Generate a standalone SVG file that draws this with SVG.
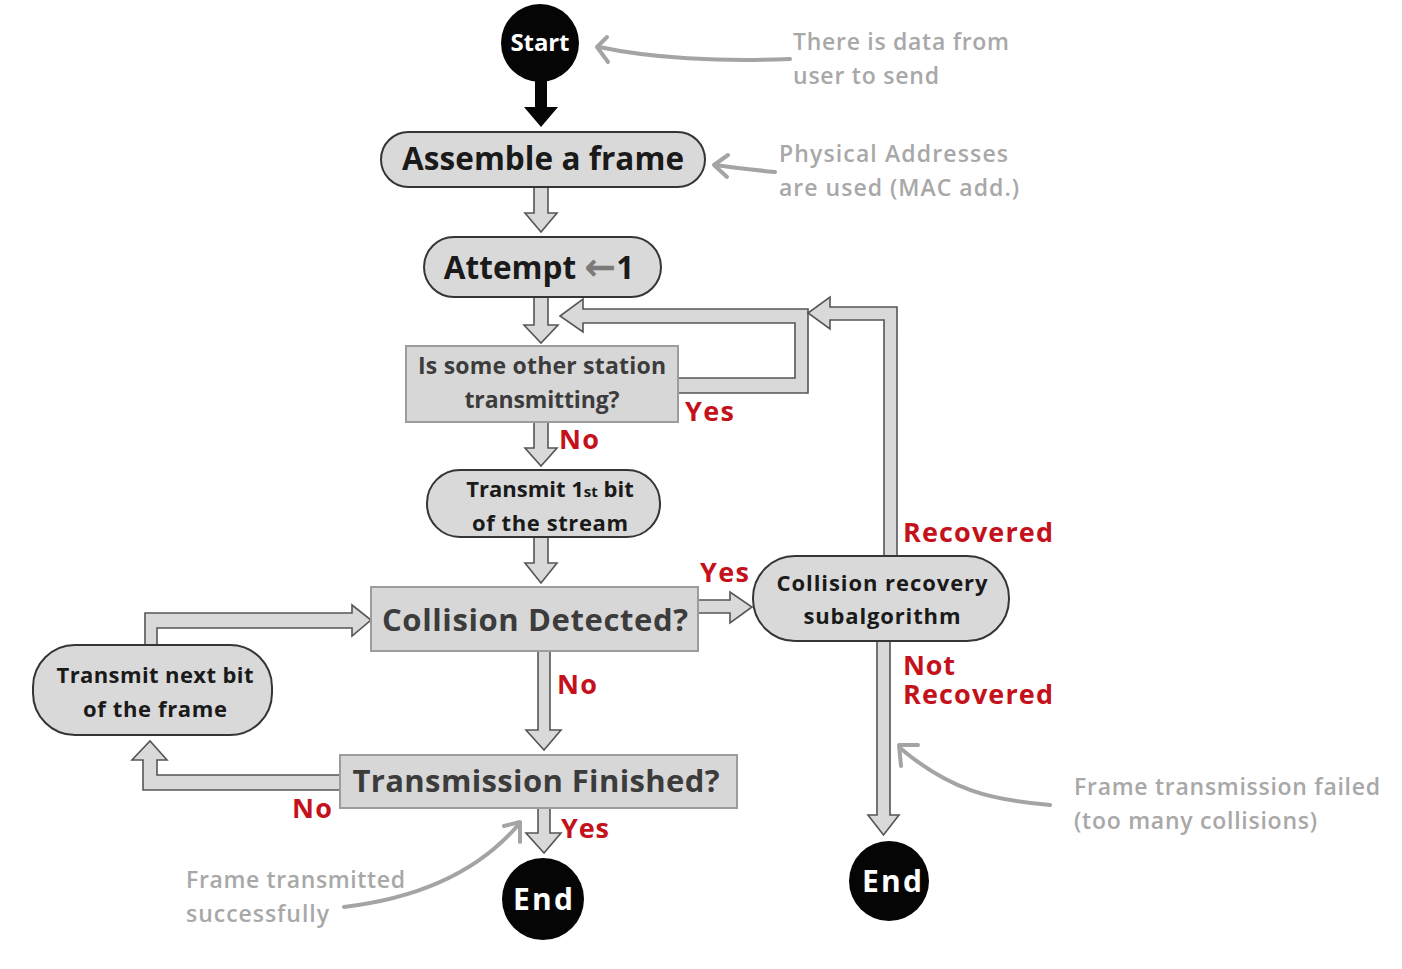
<svg xmlns="http://www.w3.org/2000/svg" width="1402" height="969" viewBox="0 0 1402 969">
<defs>
<style>
.pill{fill:#d9d9d9;stroke:#353535;stroke-width:2}
.box{fill:#d7d7d7;stroke:#9c9c9c;stroke-width:2}
.arr{fill:#d9d9d9;stroke:#555;stroke-width:1.6;stroke-linejoin:miter}
.term{fill:#050505}
.t{font-family:"Open Sans","Liberation Sans",sans-serif;font-weight:bold;fill:#1a1a1a;text-anchor:middle}
.tq{font-family:"Open Sans","Liberation Sans",sans-serif;font-weight:bold;fill:#3c3c3c;text-anchor:middle}
.tw{font-family:"Open Sans","Liberation Sans",sans-serif;font-weight:bold;fill:#fff;text-anchor:middle}
.lab{font-family:"Open Sans","Liberation Sans",sans-serif;font-weight:bold;fill:#c4111b;font-size:27px}
.note{font-family:"Open Sans","Liberation Sans",sans-serif;font-weight:600;fill:#a8a8a8;font-size:23px}
.cur{fill:none;stroke:#a4a4a4;stroke-width:4;stroke-linecap:round;stroke-linejoin:round}
</style>
</defs>
<rect width="1402" height="969" fill="#ffffff"/>

<g id="connectors">
<rect x="535" y="78" width="12" height="30" fill="#050505"/>
<polygon points="524,107 558,107 541,127" fill="#050505"/>
<polygon class="arr" points="534,187 548,187 548,213 557,213 541,232 525,213 534,213"/>
<polygon class="arr" points="534,297 548,297 548,325 558,325 541,343 524,325 534,325"/>
<polygon class="arr" points="677,378 795,378 795,323 583,323 583,332 560,316 583,299 583,309 808,309 808,393 677,393"/>
<polygon class="arr" points="534,421 548,421 548,448 557,448 541,466 525,448 534,448"/>
<polygon class="arr" points="534,537 548,537 548,563 557,563 541,583 525,563 534,563"/>
<polygon class="arr" points="698,600 730,600 730,592 752,607 730,623 730,613 698,613"/>
<polygon class="arr" points="884,557 884,320 830,320 830,329 808,313 830,297 830,307 897,307 897,557"/>
<polygon class="arr" points="877,640 890,640 890,815 899,815 883.5,835 868,815 877,815"/>
<polygon class="arr" points="145,646 145,613 352,613 352,605 371,620 352,636 352,628 157,628 157,646"/>
<polygon class="arr" points="538,651 550,651 550,730 561,730 544,750 526,730 538,730"/>
<polygon class="arr" points="341,775 157,775 157,760 167,760 150,741 132,760 143,760 143,790 341,790"/>
<polygon class="arr" points="538,808 550,808 550,833 561,833 544,853 526,833 538,833"/>
</g>

<g id="annotations">
<path class="cur" d="M790,59 C720,62 650,58 599,47"/>
<path class="cur" d="M607,37 L597,47 L608,62"/>
<path class="cur" d="M775,172 C755,170 735,168 715,165"/>
<path class="cur" d="M728,155 L714,165 L727,177"/>
<path class="cur" d="M1050,805 C990,800 950,790 900,748"/>
<path class="cur" d="M918,745 L899,745 L901,766"/>
<path class="cur" d="M344,907 C420,898 480,870 519,824"/>
<path class="cur" d="M504,826 L520,822 L520,842"/>
<text class="note" x="793" y="50" textLength="216">There is data from</text>
<text class="note" x="793" y="84" textLength="146">user to send</text>
<text class="note" x="779" y="162" textLength="229">Physical Addresses</text>
<text class="note" x="779" y="196" textLength="240">are used (MAC add.)</text>
<text class="note" x="1074" y="795" textLength="306">Frame transmission failed</text>
<text class="note" x="1074" y="829" textLength="243">(too many collisions)</text>
<text class="note" x="186" y="888" textLength="219">Frame transmitted</text>
<text class="note" x="186" y="922" textLength="143">successfully</text>
</g>

<g id="labels">
<text class="lab" x="685" y="421" textLength="49">Yes</text>
<text class="lab" x="559" y="449" textLength="40">No</text>
<text class="lab" x="700" y="582" textLength="49">Yes</text>
<text class="lab" x="557" y="694" textLength="40">No</text>
<text class="lab" x="292" y="818" textLength="40">No</text>
<text class="lab" x="561" y="838" textLength="48">Yes</text>
<text class="lab" x="903" y="542" textLength="150">Recovered</text>
<text class="lab" x="903" y="675"><tspan textLength="52">Not</tspan><tspan x="903" dy="29" textLength="150">Recovered</tspan></text>
</g>

<g id="start">
<circle class="term" cx="540" cy="43" r="39"/>
<text class="tw" x="540" y="51" font-size="24" textLength="59">Start</text>
</g>
<g id="assemble">
<rect class="pill" x="381" y="132" width="324" height="55" rx="27.5"/>
<text class="t" x="543" y="170" font-size="31.5" textLength="282">Assemble a frame</text>
</g>
<g id="attempt">
<rect class="pill" x="424" y="237" width="237" height="60" rx="30"/>
<text class="t" x="539" y="279" font-size="31.5">Attempt <tspan fill="#7a7a7a" font-family="DejaVu Sans" font-size="38" dy="1">←</tspan><tspan dy="-1">1</tspan></text>
</g>
<g id="is-other-station">
<rect class="box" x="406" y="346" width="272" height="76"/>
<text class="tq" x="542" y="374" font-size="23" textLength="248">Is some other station</text>
<text class="tq" x="542" y="408" font-size="23" textLength="155">transmitting?</text>
</g>
<g id="transmit-first">
<rect class="pill" x="427" y="470" width="233" height="67" rx="33"/>
<text class="t" x="550" y="497" font-size="22">Transmit 1<tspan font-size="15">st</tspan> bit</text>
<text class="t" x="550" y="531" font-size="22" textLength="156">of the stream</text>
</g>
<g id="collision-detected">
<rect class="box" x="371" y="587" width="327" height="64"/>
<text class="tq" x="535" y="631" font-size="31" textLength="306">Collision Detected?</text>
</g>
<g id="collision-recovery">
<rect class="pill" x="753" y="556" width="256" height="85" rx="42"/>
<text class="t" x="882" y="591" font-size="22" textLength="211">Collision recovery</text>
<text class="t" x="882" y="624" font-size="22" textLength="157">subalgorithm</text>
</g>
<g id="transmit-next">
<rect class="pill" x="33" y="645" width="239" height="90" rx="42"/>
<text class="t" x="155" y="683" font-size="22" textLength="197">Transmit next bit</text>
<text class="t" x="155" y="717" font-size="22" textLength="144">of the frame</text>
</g>
<g id="transmission-finished">
<rect class="box" x="340" y="755" width="397" height="53"/>
<text class="tq" x="536" y="792" font-size="31" textLength="367">Transmission Finished?</text>
</g>
<g id="end-success">
<circle class="term" cx="543" cy="899" r="41"/>
<text class="tw" x="543" y="910" font-size="30" textLength="60">End</text>
</g>
<g id="end-fail">
<circle class="term" cx="889" cy="881" r="40"/>
<text class="tw" x="892" y="892" font-size="30" textLength="60">End</text>
</g>
</svg>
